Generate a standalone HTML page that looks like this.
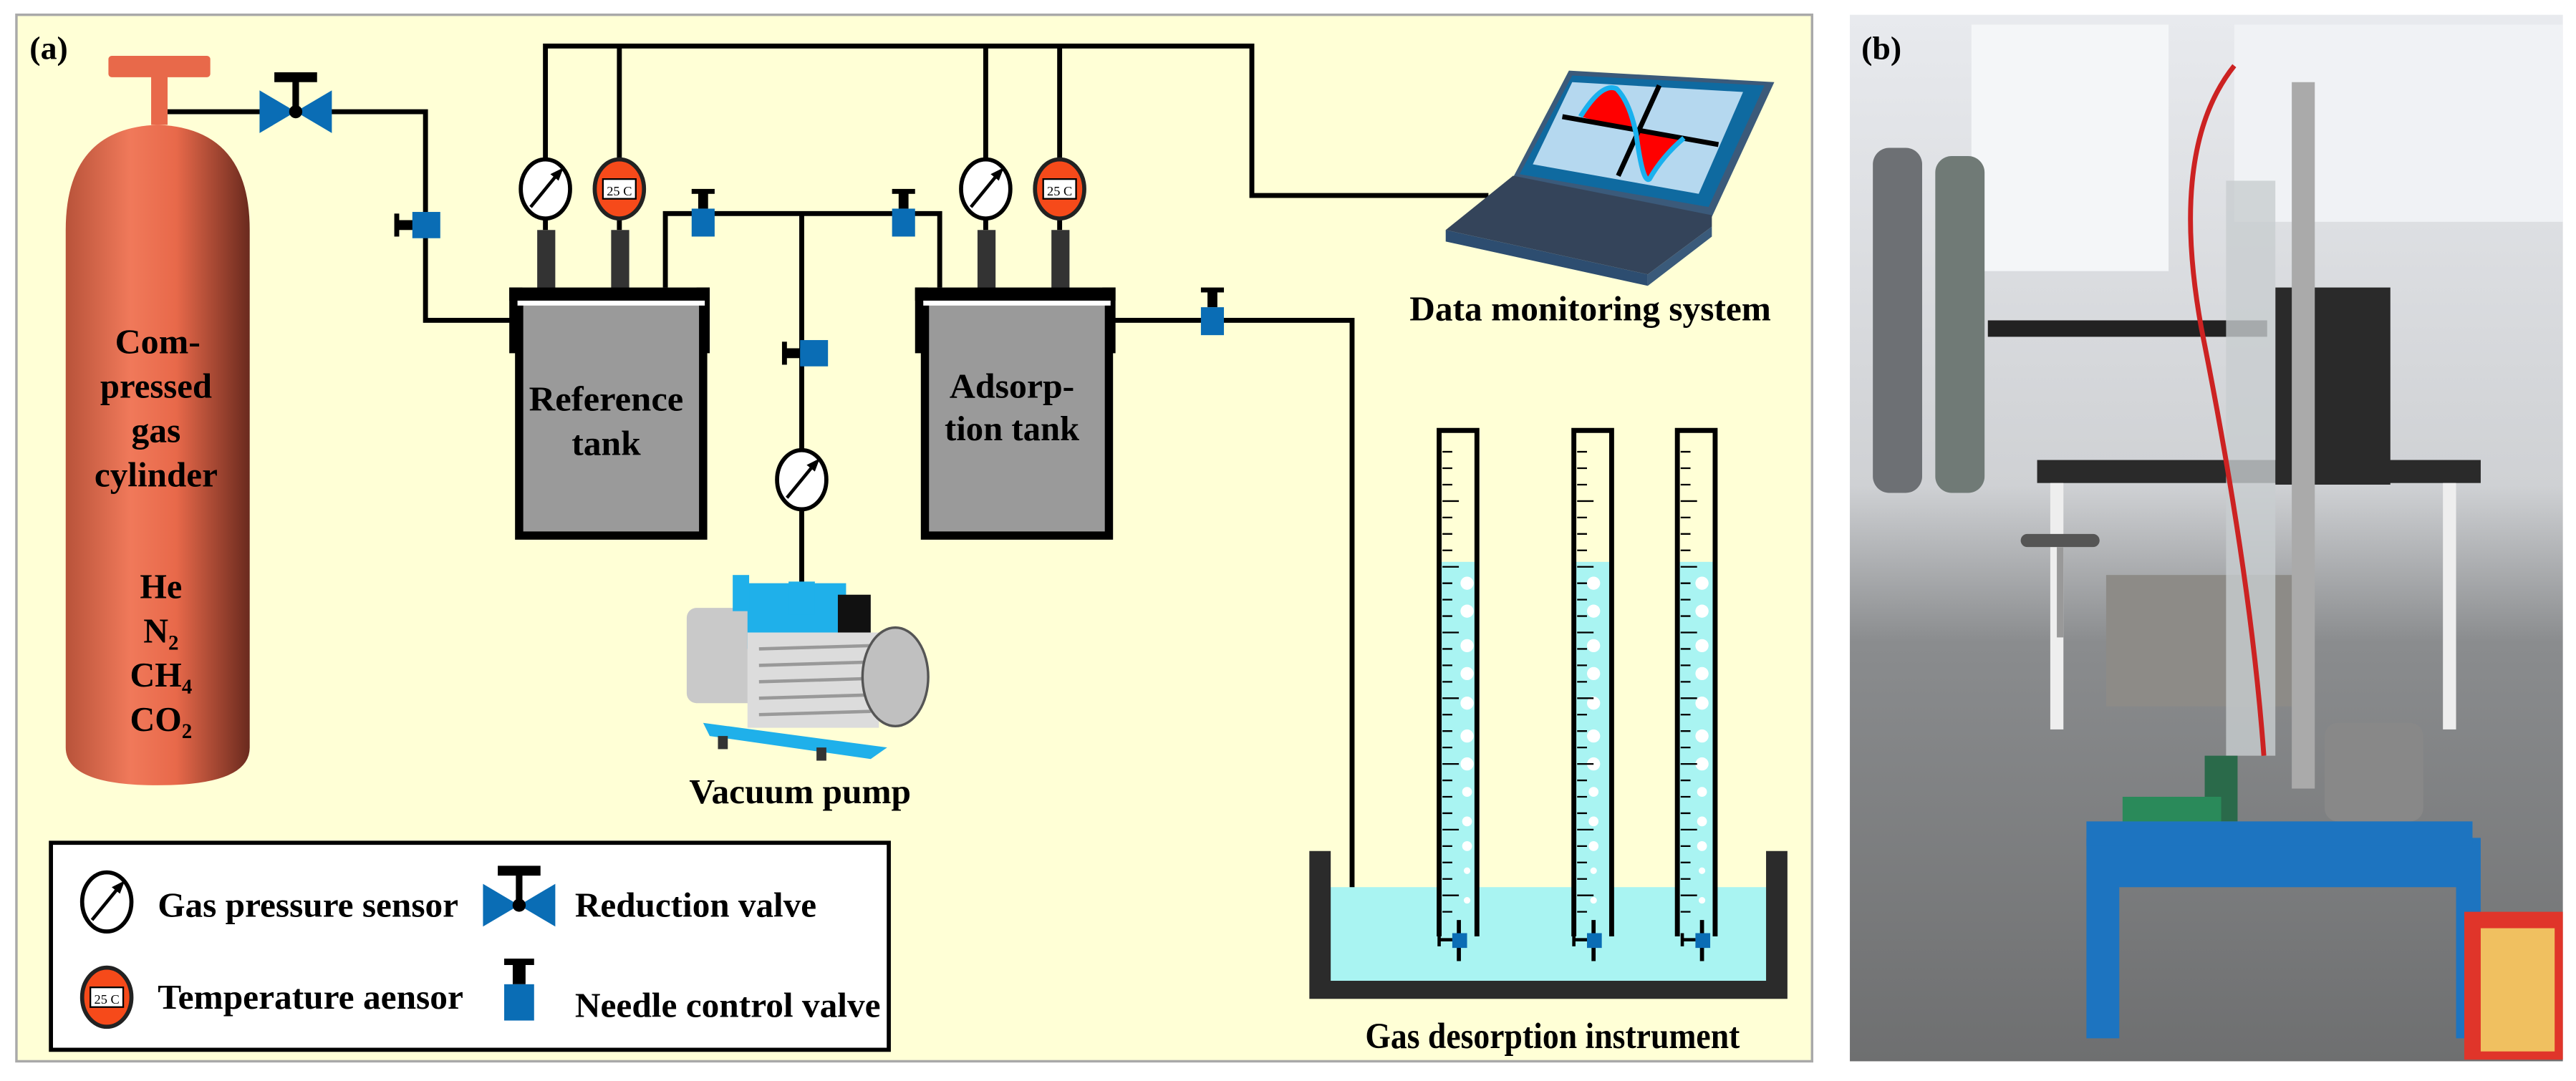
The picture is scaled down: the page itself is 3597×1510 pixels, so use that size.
<!DOCTYPE html>
<html><head><meta charset="utf-8"><style>
html,body{margin:0;padding:0;background:#fff;}
svg{display:block;}
text{font-family:"Liberation Serif",serif;font-weight:bold;}
</style></head><body>
<svg width="3597" height="1510" viewBox="0 0 1568 658" preserveAspectRatio="none" xmlns="http://www.w3.org/2000/svg">
<defs>
<linearGradient id="cyl" x1="0" x2="1" y1="0" y2="0">
<stop offset="0" stop-color="#b8533a"/><stop offset="0.35" stop-color="#f0795a"/><stop offset="0.6" stop-color="#e8694a"/><stop offset="1" stop-color="#6a2a1e"/>
</linearGradient>
<linearGradient id="photo" x1="0" x2="0" y1="0" y2="1">
<stop offset="0" stop-color="#e8eaee"/><stop offset="0.45" stop-color="#cfd1d4"/><stop offset="0.6" stop-color="#8a8c8e"/><stop offset="1" stop-color="#6e6f70"/>
</linearGradient>
<g id="needle"><rect x="-3" y="-13" width="6" height="10" fill="#000"/><rect x="-7" y="-15" width="14" height="3" fill="#000"/><rect x="-7" y="-3" width="14" height="17" fill="#0a6db5"/></g>
<g id="needleL"><rect x="-12" y="-3" width="10" height="6" fill="#000"/><rect x="-14" y="-7" width="3" height="14" fill="#000"/><rect x="-3" y="-8" width="17" height="16" fill="#0a6db5"/></g>
<g id="gauge"><ellipse cx="0" cy="0" rx="15" ry="18" fill="#fff" stroke="#000" stroke-width="2.5"/><line x1="-9" y1="11" x2="9" y2="-11" stroke="#000" stroke-width="2"/><polygon points="11,-13 3,-9 8,-5" fill="#000"/></g>
<g id="temp"><ellipse cx="0" cy="0" rx="15" ry="18" fill="#f64a1a" stroke="#222" stroke-width="2.5"/><rect x="-10" y="-6" width="20" height="12" fill="#fff" stroke="#000" stroke-width="1"/><text x="0" y="4" font-size="8" text-anchor="middle" style="font-weight:normal">25 C</text></g>
<g id="rvalve"><polygon points="-22,-13 0,0 -22,13" fill="#0a6db5"/><polygon points="22,-13 0,0 22,13" fill="#0a6db5"/><circle cx="0" cy="0" r="4" fill="#000"/><rect x="-2" y="-20" width="4" height="20" fill="#000"/><rect x="-13" y="-24" width="26" height="6" fill="#000"/></g>
<g id="burette"><rect x="-1" y="80" width="24" height="225" fill="#a9f4f2"/><path d="M0,308 V0 H23 V308" fill="none" stroke="#000" stroke-width="3"/></g>
</defs>
<rect x="10" y="9" width="1093" height="637" fill="#ffffd6" stroke="#a9a9a9" stroke-width="1.5"/>
<text x="18" y="36" font-size="20">(a)</text>
<g fill="none" stroke="#000" stroke-width="3">
<path d="M102,68 H259 V195 H312"/>
<path d="M332,140 V28 H762 V119 H906"/>
<path d="M377,140 V28"/>
<path d="M600,140 V28"/><path d="M645,140 V28"/>
<path d="M405,175 V130 H572 V175"/>
<path d="M488,130 V355"/>
<path d="M678,195 H823 V585 H1040"/>
</g>
<rect x="66" y="34" width="62" height="13" rx="2" fill="#e8694a"/>
<rect x="92" y="46" width="10" height="30" fill="#e8694a"/>
<path d="M40,140 Q40,78 96,76 Q152,78 152,140 V455 Q152,478 96,478 Q40,478 40,455 Z" fill="url(#cyl)"/>
<g font-size="21" text-anchor="middle" fill="#000">
<text x="96" y="215" textLength="52" lengthAdjust="spacingAndGlyphs">Com-</text>
<text x="95" y="242" textLength="68" lengthAdjust="spacingAndGlyphs">pressed</text>
<text x="95" y="269" textLength="30" lengthAdjust="spacingAndGlyphs">gas</text>
<text x="95" y="296" textLength="75" lengthAdjust="spacingAndGlyphs">cylinder</text>
<text x="98" y="364">He</text><text x="98" y="391">N₂</text><text x="98" y="418">CH₄</text><text x="98" y="445">CO₂</text>
</g>
<use href="#rvalve" x="180" y="68"/>
<use href="#needleL" x="254" y="137"/>
<rect x="327" y="140" width="11" height="36" fill="#333"/><rect x="372" y="140" width="11" height="36" fill="#333"/>
<rect x="595" y="140" width="11" height="36" fill="#333"/><rect x="640" y="140" width="11" height="36" fill="#333"/>
<rect x="310" y="175" width="122" height="8" fill="#000"/>
<rect x="310" y="175" width="8" height="40" fill="#000"/><rect x="424" y="175" width="8" height="40" fill="#000"/>
<rect x="316" y="183" width="112" height="143" fill="#9a9a9a" stroke="#000" stroke-width="5"/>
<rect x="315" y="183" width="114" height="3" fill="#fff"/>
<text x="369" y="250" font-size="21" text-anchor="middle" textLength="94" lengthAdjust="spacingAndGlyphs">Reference</text>
<text x="369" y="277" font-size="21" text-anchor="middle" textLength="42" lengthAdjust="spacingAndGlyphs">tank</text>
<rect x="557" y="175" width="122" height="8" fill="#000"/>
<rect x="557" y="175" width="8" height="40" fill="#000"/><rect x="671" y="175" width="8" height="40" fill="#000"/>
<rect x="563" y="183" width="112" height="143" fill="#9a9a9a" stroke="#000" stroke-width="5"/>
<rect x="562" y="183" width="114" height="3" fill="#fff"/>
<text x="616" y="242" font-size="21" text-anchor="middle" textLength="76" lengthAdjust="spacingAndGlyphs">Adsorp-</text>
<text x="616" y="268" font-size="21" text-anchor="middle" textLength="82" lengthAdjust="spacingAndGlyphs">tion tank</text>
<use href="#gauge" x="332" y="115"/><use href="#temp" x="377" y="115"/>
<use href="#gauge" x="600" y="115"/><use href="#temp" x="645" y="115"/>
<use href="#needle" x="428" y="130"/><use href="#needle" x="550" y="130"/>
<use href="#needleL" x="490" y="215"/>
<use href="#gauge" x="488" y="292"/>
<use href="#needle" x="738" y="190"/>
<rect x="418" y="370" width="45" height="58" rx="6" fill="#c9c9c9"/>
<rect x="455" y="355" width="60" height="40" fill="#1fb0ea"/>
<rect x="446" y="350" width="10" height="22" fill="#1fb0ea"/>
<rect x="480" y="354" width="16" height="20" fill="#1fb0ea"/>
<rect x="510" y="362" width="20" height="28" fill="#111"/>
<rect x="455" y="385" width="80" height="58" fill="#dcdcdc"/>
<g stroke="#999" stroke-width="2"><line x1="462" y1="395" x2="530" y2="393"/><line x1="462" y1="405" x2="530" y2="403"/><line x1="462" y1="415" x2="530" y2="413"/><line x1="462" y1="425" x2="530" y2="423"/><line x1="462" y1="435" x2="530" y2="433"/></g>
<ellipse cx="545" cy="412" rx="20" ry="30" fill="#c0c0c0" stroke="#555" stroke-width="1.5"/>
<polygon points="428,440 540,455 530,462 432,448" fill="#1fb0ea"/>
<rect x="437" y="448" width="6" height="8" fill="#333"/><rect x="497" y="455" width="6" height="8" fill="#333"/>
<text x="487" y="489" font-size="21" text-anchor="middle" textLength="135" lengthAdjust="spacingAndGlyphs">Vacuum pump</text>
<polygon points="955,43 1080,50 1042,132 921,108" fill="#3b5a7a"/>
<polygon points="957,46 1074,52 1040,126 925,106" fill="#0f6aa0"/>
<polygon points="957,50 1061,56 1034,118 933,100" fill="#b5d8ef"/>
<path d="M962,71 Q975,50 984,54 Q990,60 996,80 Z" fill="#f00"/>
<path d="M996,80 Q999,110 1003,108 Q1012,95 1025,84 Z" fill="#f00"/>
<line x1="951" y1="71" x2="1046" y2="88" stroke="#000" stroke-width="3"/>
<line x1="1010" y1="52" x2="985" y2="107" stroke="#000" stroke-width="3"/>
<path d="M962,71 Q975,50 984,54 Q992,62 996,82 Q1000,112 1004,109 Q1012,95 1025,84" fill="none" stroke="#1ab1ee" stroke-width="3"/>
<polygon points="921,107 1042,131 1042,138 1003,167 880,140" fill="#34445a"/>
<polygon points="880,140 1003,167 1003,174 880,147" fill="#2d4d70"/>
<polygon points="1003,167 1042,138 1042,144 1003,174" fill="#3a5a7a"/>
<text x="968" y="195" font-size="21" text-anchor="middle" textLength="220" lengthAdjust="spacingAndGlyphs">Data monitoring system</text>
<rect x="806" y="540" width="273" height="57" fill="#a9f4f2"/>
<use href="#burette" x="876" y="262"/><use href="#burette" x="958" y="262"/><use href="#burette" x="1021" y="262"/>
<g fill="#fff">
<circle cx="893" cy="355" r="4"/><circle cx="893" cy="372" r="4"/><circle cx="893" cy="393" r="4"/><circle cx="893" cy="410" r="4"/><circle cx="893" cy="428" r="4"/><circle cx="893" cy="448" r="4"/><circle cx="893" cy="465" r="4"/><circle cx="893" cy="482" r="3"/><circle cx="893" cy="500" r="3"/><circle cx="893" cy="515" r="3"/><circle cx="893" cy="530" r="2"/><circle cx="893" cy="548" r="2"/>
<circle cx="970" cy="355" r="4"/><circle cx="970" cy="372" r="4"/><circle cx="970" cy="393" r="4"/><circle cx="970" cy="410" r="4"/><circle cx="970" cy="428" r="4"/><circle cx="970" cy="448" r="4"/><circle cx="970" cy="465" r="4"/><circle cx="970" cy="482" r="3"/><circle cx="970" cy="500" r="3"/><circle cx="970" cy="515" r="3"/><circle cx="970" cy="530" r="2"/><circle cx="970" cy="548" r="2"/>
<circle cx="1036" cy="355" r="4"/><circle cx="1036" cy="372" r="4"/><circle cx="1036" cy="393" r="4"/><circle cx="1036" cy="410" r="4"/><circle cx="1036" cy="428" r="4"/><circle cx="1036" cy="448" r="4"/><circle cx="1036" cy="465" r="4"/><circle cx="1036" cy="482" r="3"/><circle cx="1036" cy="500" r="3"/><circle cx="1036" cy="515" r="3"/><circle cx="1036" cy="530" r="2"/><circle cx="1036" cy="548" r="2"/>
</g>
<g stroke="#000" stroke-width="1">
<path d="M878,275h6M878,285h6M878,295h6M878,305h10M878,315h6M878,325h6M878,335h6M878,345h10M878,355h6M878,365h6M878,375h6M878,385h10M878,395h6M878,405h6M878,415h6M878,425h10M878,435h6M878,445h6M878,455h6M878,465h10M878,475h6M878,485h6M878,495h6M878,505h10M878,515h6M878,525h6M878,535h6M878,545h10M878,555h6"/>
<path d="M960,275h6M960,285h6M960,295h6M960,305h10M960,315h6M960,325h6M960,335h6M960,345h10M960,355h6M960,365h6M960,375h6M960,385h10M960,395h6M960,405h6M960,415h6M960,425h10M960,435h6M960,445h6M960,455h6M960,465h10M960,475h6M960,485h6M960,495h6M960,505h10M960,515h6M960,525h6M960,535h6M960,545h10M960,555h6"/>
<path d="M1023,275h6M1023,285h6M1023,295h6M1023,305h10M1023,315h6M1023,325h6M1023,335h6M1023,345h10M1023,355h6M1023,365h6M1023,375h6M1023,385h10M1023,395h6M1023,405h6M1023,415h6M1023,425h10M1023,435h6M1023,445h6M1023,455h6M1023,465h10M1023,475h6M1023,485h6M1023,495h6M1023,505h10M1023,515h6M1023,525h6M1023,535h6M1023,545h10M1023,555h6"/>
</g>
<g stroke="#000" stroke-width="2.5" fill="none"><path d="M888,560 V585"/><path d="M970,560 V585"/><path d="M1036,560 V585"/></g>
<g fill="#0a6db5"><rect x="884" y="568" width="9" height="9"/><rect x="966" y="568" width="9" height="9"/><rect x="1032" y="568" width="9" height="9"/></g>
<g stroke="#000" stroke-width="2"><path d="M876,572h8M876,568v8M958,572h8M958,568v8M1024,572h8M1024,568v8"/></g>
<path d="M797,518 H810 V597 H1075 V518 H1088 V608 H797 Z" fill="#2b2b2b"/>
<text x="945" y="638" font-size="22" text-anchor="middle" textLength="228" lengthAdjust="spacingAndGlyphs">Gas desorption instrument</text>
<rect x="31" y="513" width="510" height="126" fill="#fff" stroke="#000" stroke-width="2.5"/>
<use href="#gauge" x="65" y="549"/>
<use href="#temp" x="65" y="607"/>
<use href="#rvalve" x="316" y="551"/>
<g transform="translate(316,603) scale(1.3)"><use href="#needle"/></g>
<g font-size="21">
<text x="96" y="558" textLength="183" lengthAdjust="spacingAndGlyphs">Gas pressure sensor</text>
<text x="96" y="614" textLength="186" lengthAdjust="spacingAndGlyphs">Temperature aensor</text>
<text x="350" y="558" textLength="147" lengthAdjust="spacingAndGlyphs">Reduction valve</text>
<text x="350" y="619" textLength="186" lengthAdjust="spacingAndGlyphs">Needle control valve</text>
</g>
<rect x="1126" y="9" width="434" height="637" fill="url(#photo)"/>
<rect x="1200" y="15" width="120" height="150" fill="#f4f6f8"/>
<rect x="1360" y="15" width="200" height="120" fill="#f0f2f5"/>
<rect x="1140" y="90" width="30" height="210" rx="10" fill="#6d7074"/>
<rect x="1178" y="95" width="30" height="205" rx="10" fill="#707a76"/>
<rect x="1210" y="195" width="170" height="10" fill="#222"/>
<rect x="1240" y="280" width="270" height="14" fill="#2a2a2a"/>
<rect x="1248" y="294" width="8" height="150" fill="#eee"/>
<rect x="1487" y="294" width="8" height="150" fill="#eee"/>
<rect x="1385" y="175" width="70" height="120" fill="#2a2a2a"/>
<rect x="1282" y="350" width="120" height="80" fill="#8d8b87"/>
<rect x="1395" y="50" width="14" height="430" fill="#aaa"/>
<rect x="1355" y="110" width="30" height="350" fill="#c8cdd0" opacity="0.8"/>
<path d="M1360,40 Q1320,90 1340,200 Q1370,350 1378,460" fill="none" stroke="#c22" stroke-width="3"/>
<rect x="1230" y="325" width="48" height="8" rx="4" fill="#555"/>
<rect x="1252" y="333" width="4" height="55" fill="#999"/>
<rect x="1342" y="460" width="20" height="40" fill="#2a6a4a"/>
<rect x="1292" y="485" width="60" height="35" fill="#2a8a5a"/>
<rect x="1415" y="440" width="60" height="60" rx="8" fill="#888"/>
<path d="M1270,510 H1510 V632 H1495 V540 H1290 V632 H1270 Z" fill="#1d74c0"/>
<path d="M1270,500 H1505 V515 H1270 Z" fill="#1d74c0"/>
<rect x="1500" y="555" width="60" height="90" fill="#e0352a"/>
<rect x="1510" y="565" width="45" height="75" fill="#f0c060"/>
<text x="1133" y="36" font-size="20">(b)</text>
</svg>
</body></html>
